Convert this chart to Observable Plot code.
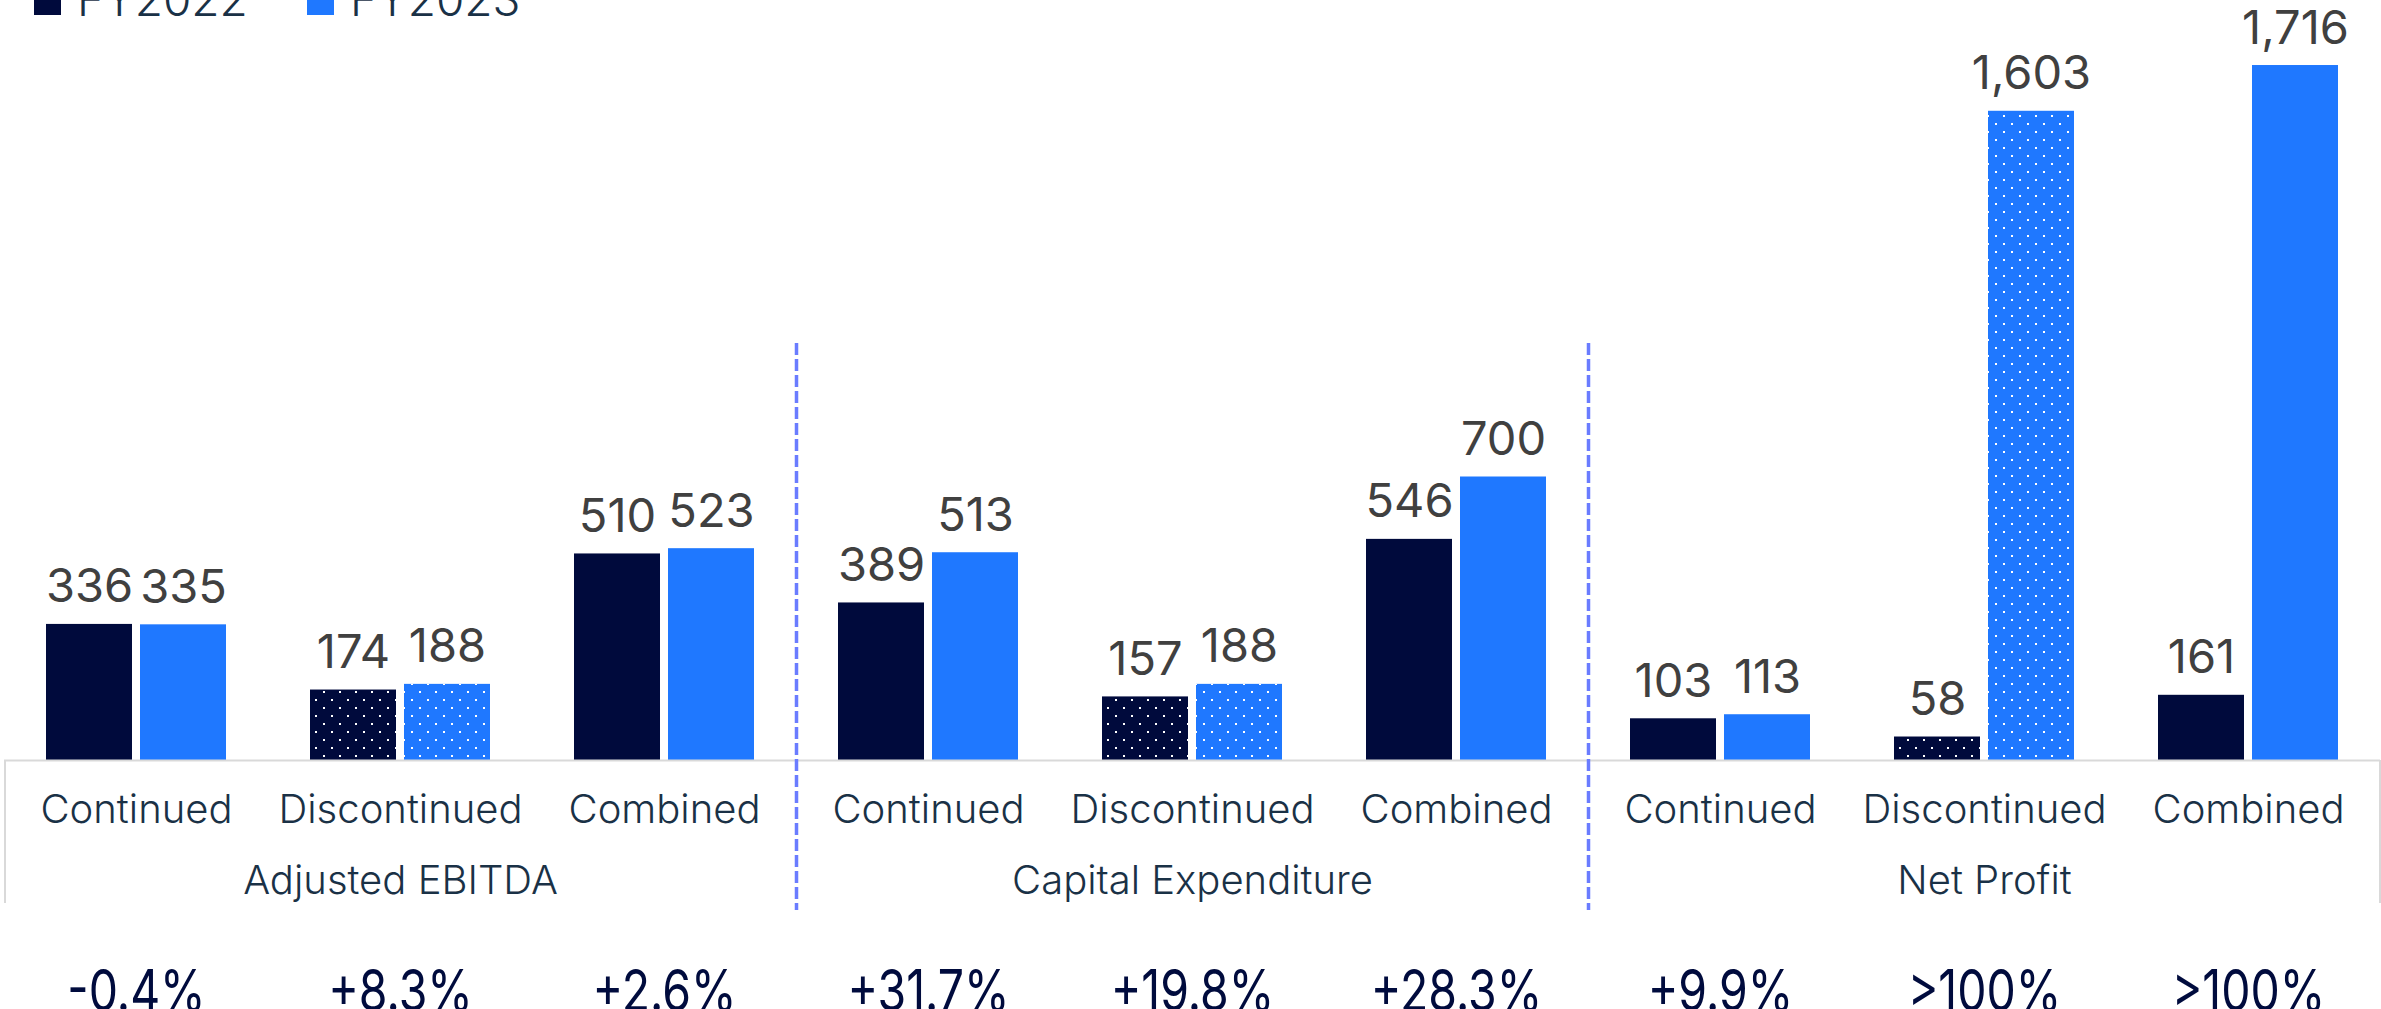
<!DOCTYPE html>
<html>
<head>
<meta charset="utf-8">
<script src="https://cdn.jsdelivr.net/npm/d3@7"></script>
<script src="https://cdn.jsdelivr.net/npm/@observablehq/plot@0.6"></script>
<style>
  html, body { margin: 0; padding: 0; background: #fff; overflow: hidden; }
  #wrap { position: relative; width: 2381px; height: 1009px; }
  #legend { position: absolute; left: 0; top: 0; width: 2381px; height: 40px; z-index: 2; }
  .sw { position: absolute; top: -12px; width: 27px; height: 27px; }
  .lt { position: absolute; top: -24px; font-family: Inter, "Noto Sans", sans-serif; font-weight: 300;
        font-size: 46px; line-height: 46px; color: #1a3146; white-space: nowrap; }
</style>
</head>
<body>
<div id="wrap">
  <div id="legend"></div>
  <div id="chart"></div>
</div>
<script>
// ---------------- data ----------------
const groups = ["Adjusted EBITDA", "Capital Expenditure", "Net Profit"];
const types = ["Continued", "Discontinued", "Combined"];
const seriesNames = ["FY2022", "FY2023"];
const fy2022 = [336, 174, 510, 389, 157, 546, 103, 58, 161];
const fy2023 = [335, 188, 523, 513, 188, 700, 113, 1603, 1716];
const changes = ["-0.4%", "+8.3%", "+2.6%", "+31.7%", "+19.8%", "+28.3%", "+9.9%", ">100%", ">100%"];

// ---------------- style / layout ----------------
const navy = "#000a3c", blue = "#1f78ff";
const W = 2381, H = 1009, ML = 4, MR = 1, MT = 31, MB = 249;
const bw = (W - ML - MR) / (groups.length * types.length); // band width per category
const barW = 86, barGap = 8;
const side = (bw - 2 * barW - barGap) / 2;
const off = (barW + barGap) / 2;

const rows = [];
groups.forEach((g, gi) => types.forEach((t, ti) => {
  const i = gi * types.length + ti;
  rows.push({key: g + "|" + t, group: g, type: t, v22: fy2022[i], v23: fy2023[i], change: changes[i]});
}));
const keys = rows.map(d => d.key);
const groupRows = rows.filter(d => d.type === types[1]); // middle category of each group
const sepKeys = groups.slice(0, -1).map(g => g + "|" + types[types.length - 1]);
const dotted = rows.filter(d => d.type === "Discontinued");
const fmt = d3.format(",");

const valueFont = {fontFamily: "Inter, 'Noto Sans', sans-serif", fontSize: 47, fill: "#404040", lineAnchor: "bottom"};
const catFont = {fontFamily: "Inter, 'Noto Sans', sans-serif", fontWeight: 300, fontSize: 40, fill: "#1a3146", lineAnchor: "bottom", frameAnchor: "bottom"};

const chart = Plot.plot({
  width: W, height: H,
  marginLeft: ML, marginRight: MR, marginTop: MT, marginBottom: MB,
  x: {domain: keys, padding: 0, axis: null},
  y: {domain: [0, 1800], axis: null},
  style: {background: "transparent", overflow: "visible"},
  marks: [
    // bars FY2022
    Plot.barY(rows, {x: "key", y: "v22", fill: navy, insetLeft: side, insetRight: bw - side - barW}),
    Plot.barY(dotted, {x: "key", y: "v22", fill: "url(#dots)", insetLeft: side, insetRight: bw - side - barW}),
    // bars FY2023
    Plot.barY(rows, {x: "key", y: "v23", fill: blue, insetLeft: side + barW + barGap, insetRight: side}),
    Plot.barY(dotted, {x: "key", y: "v23", fill: "url(#dots)", insetLeft: side + barW + barGap, insetRight: side}),
    // baseline
    Plot.ruleY([0], {stroke: "#d9d9d9", strokeWidth: 2}),
    // side borders of the label box
    Plot.ruleX([keys[0]], {x: d => d, dx: -bw / 2 + 0.5, insetTop: H - MT - MB, insetBottom: -143, stroke: "#d9d9d9", strokeWidth: 2}),
    Plot.ruleX([keys[keys.length - 1]], {x: d => d, dx: bw / 2 - 0.5, insetTop: H - MT - MB, insetBottom: -143, stroke: "#d9d9d9", strokeWidth: 2}),
    // dashed separators
    Plot.ruleX(sepKeys, {x: d => d, dx: bw / 2, insetTop: 312, insetBottom: -150, stroke: "#6a7cff", strokeWidth: 3.5, strokeDasharray: "12,4"}),
    // value labels
    Plot.text(rows, {x: "key", y: "v22", text: d => fmt(d.v22), dx: -off, dy: -22, ...valueFont}),
    Plot.text(rows, {x: "key", y: "v23", text: d => fmt(d.v23), dx: off, dy: -22, ...valueFont}),
    // category labels
    Plot.text(rows, {x: "key", text: "type", dy: 62, ...catFont}),
    // group labels
    Plot.text(groupRows, {x: "key", text: "group", dy: 133, ...catFont}),
    // change percentages (condensed afterwards)
    Plot.text(rows, {x: "key", text: "change", dy: 250, frameAnchor: "bottom", lineAnchor: "bottom",
      fontFamily: "Inter, 'Noto Sans', sans-serif", fontWeight: 400,
      fontSize: 58, fill: "#000b3d"})
  ]
});

const svg = chart.tagName.toLowerCase() === "svg" ? chart : chart.querySelector("svg");
const ns = "http://www.w3.org/2000/svg";
const defs = document.createElementNS(ns, "defs");
const pat = document.createElementNS(ns, "pattern");
pat.setAttribute("id", "dots");
pat.setAttribute("patternUnits", "userSpaceOnUse");
pat.setAttribute("width", 16);
pat.setAttribute("height", 16);
[[3, 3], [11, 11]].forEach(([px, py]) => {
  const r = document.createElementNS(ns, "rect");
  r.setAttribute("x", px); r.setAttribute("y", py);
  r.setAttribute("width", 2); r.setAttribute("height", 2);
  r.setAttribute("fill", "#ffffff");
  pat.appendChild(r);
});
defs.appendChild(pat);
svg.insertBefore(defs, svg.firstChild);

// condense the percentage labels horizontally (narrow face in the reference)
const changeSet = new Set(changes);
svg.querySelectorAll("text").forEach(t => {
  if (!changeSet.has(t.textContent.trim())) return;
  const tr = t.getAttribute("transform");
  if (tr && tr.includes("translate")) {
    t.setAttribute("transform", tr + " scale(0.8,1)");
  } else {
    const x = parseFloat(t.getAttribute("x")) || 0;
    t.setAttribute("transform", `translate(${x},0) scale(0.8,1) translate(${-x},0)` + (tr ? " " + tr : ""));
  }
});
document.getElementById("chart").appendChild(chart);

// legend (top, partly cut off as in the reference)
const legend = document.getElementById("legend");
const legendLeft = [34, 307];
seriesNames.forEach((name, i) => {
  const sw = document.createElement("div");
  sw.className = "sw";
  sw.style.left = legendLeft[i] + "px";
  sw.style.background = [navy, blue][i];
  legend.appendChild(sw);
  const t = document.createElement("span");
  t.className = "lt";
  t.style.left = (legendLeft[i] + 43) + "px";
  t.textContent = name;
  legend.appendChild(t);
});
</script>
</body>
</html>
